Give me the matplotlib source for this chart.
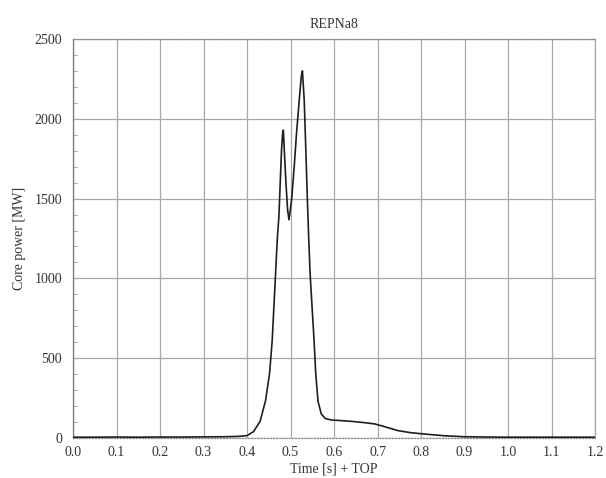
import matplotlib
matplotlib.use("Agg")
import matplotlib.pyplot as plt
from matplotlib.ticker import MultipleLocator

title = "REPNa8"
x_label = "Time [s] + TOP"
y_label = "Core power [MW]"
x_ticks = [0.0, 0.1, 0.2, 0.3, 0.4, 0.5, 0.6, 0.7, 0.8, 0.9, 1.0, 1.1, 1.2]
y_ticks = [0, 500, 1000, 1500, 2000, 2500]

time_s = [0.00, 0.05, 0.10, 0.15, 0.20, 0.25, 0.30, 0.35, 0.38, 0.40, 0.415,
          0.430, 0.4426, 0.4518, 0.4579, 0.4617, 0.4656, 0.4694, 0.4732,
          0.4762, 0.4793, 0.4818, 0.4834, 0.4856, 0.4895, 0.4932, 0.4964,
          0.5023, 0.5084, 0.5137, 0.5200, 0.5246, 0.5273, 0.5314, 0.5351,
          0.5387, 0.5419, 0.5449, 0.5494, 0.5540, 0.5579, 0.5631, 0.5707,
          0.5800, 0.5934, 0.6100, 0.6410, 0.6700, 0.6936, 0.7160, 0.7470,
          0.7770, 0.8070, 0.8530, 0.8980, 0.9500, 1.0000, 1.1000, 1.2000]
power_mw = [5, 5, 6, 5, 6, 6, 7, 8, 10, 15, 40,
            105, 235, 405, 614, 823, 1032, 1241, 1387,
            1596, 1805, 1909, 1929, 1805, 1596, 1429, 1367,
            1491, 1700, 1909, 2118, 2264, 2300, 2118, 1805,
            1491, 1241, 1032, 823, 614, 405, 230, 150,
            122, 113, 110, 104, 96, 88, 71, 46,
            33, 25, 14, 8, 6, 5, 5, 5]

plt.rcParams['font.family'] = ['Liberation Serif', 'DejaVu Serif']

fig = plt.figure(figsize=(6.06, 4.78), dpi=100)
ax = fig.add_axes([0.1205, 0.0837, 0.8615, 0.8347])

ax.set_xlim(0.0, 1.2)
ax.set_ylim(0, 2500)
ax.set_xticks(x_ticks)
ax.set_xticklabels([f"{v:.1f}" for v in x_ticks])
ax.set_yticks(y_ticks)
ax.set_yticklabels([str(v) for v in y_ticks])
ax.yaxis.set_minor_locator(MultipleLocator(100))

ax.grid(True, which='major', color='#a8a8a8', linewidth=0.9)
ax.set_axisbelow(True)

ax.plot(time_s, power_mw, color='#1e1e1e', linewidth=1.2, zorder=3)

for side in ['top', 'bottom']:
    ax.spines[side].set_linestyle((0, (1, 1.5)))
    ax.spines[side].set_color('#8a8a8a')
    ax.spines[side].set_linewidth(0.9)
ax.spines['right'].set_color('#a8a8a8')
ax.spines['right'].set_linewidth(0.9)
ax.spines['left'].set_color('#777777')
ax.spines['left'].set_linewidth(0.9)

ax.tick_params(axis='x', which='both', length=0, labelsize=10, pad=6, colors='#333333')
ax.tick_params(axis='y', which='major', length=0, labelsize=10, pad=8, colors='#333333')
ax.tick_params(axis='y', which='minor', direction='in', length=3, color='#999999')

ax.set_title(title, fontsize=10, color='#333333', pad=8)
ax.set_xlabel(x_label, fontsize=10, color='#333333', labelpad=2)
ax.set_ylabel(y_label, fontsize=10, color='#333333', labelpad=6)

fig.savefig("out.png", dpi=100)
